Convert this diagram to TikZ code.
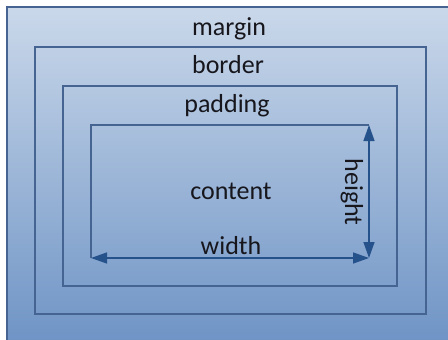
\documentclass[tikz,border=0pt]{standalone}
\usepackage{fontspec}
\setmainfont{Carlito}
\usetikzlibrary{arrows.meta}
\definecolor{boxline}{RGB}{70,100,146}
\definecolor{arrowblue}{RGB}{38,82,140}
\definecolor{boxtop}{RGB}{202,216,234}
\definecolor{boxmid}{RGB}{176,196,224}
\definecolor{boxbottom}{RGB}{108,146,196}
\definecolor{labeltext}{RGB}{22,22,28}
\begin{document}
\begin{tikzpicture}[x=1pt,y=-1pt,
    boxedge/.style={draw=boxline,line width=1.2pt},
    boxlabel/.style={text=labeltext,font=\fontsize{26}{30}\selectfont,inner sep=0pt,anchor=base},
    dimarrow/.style={draw=arrowblue,line width=1.4pt,{Triangle[length=16pt,width=11pt]}-{Triangle[length=16pt,width=11pt]}}]
      \useasboundingbox (0,0) rectangle (448,340);
      \clip (0,0) rectangle (448,340);
      \shade[top color=boxtop,middle color=boxmid,bottom color=boxbottom] (7,7) rectangle (460,352);
      % nested boxes
      \draw[boxedge] (7,352) -- (7,7) -- (460,7);
      \draw[boxedge] (35,47) rectangle (426,314);
      \draw[boxedge] (63,86) rectangle (397,286);
      \coordinate (content-nw) at (91,125);
      \coordinate (content-ne) at (369,125);
      \coordinate (content-sw) at (91,258);
      \coordinate (content-se) at (369,258);
      \draw[boxedge] (content-sw) -- (content-nw) -- (content-ne);
      % labels
      \node[boxlabel] (margin) at (229,35) {margin};
      \node[boxlabel] (border) at (228,74) {border};
      \node[boxlabel] (padding) at (227,112) {padding};
      \node[boxlabel] (content) at (231,199) {content};
      \node[boxlabel] (width) at (231,254) {width};
      \node[text=labeltext,font=\fontsize{26}{30}\selectfont,inner sep=0pt,rotate=-90] (height) at (352,192) {height};
      % dimensions
      \draw[dimarrow] (content-sw) -- (content-se);
      \draw[dimarrow] (content-ne) -- (content-se);
\end{tikzpicture}
\end{document}
